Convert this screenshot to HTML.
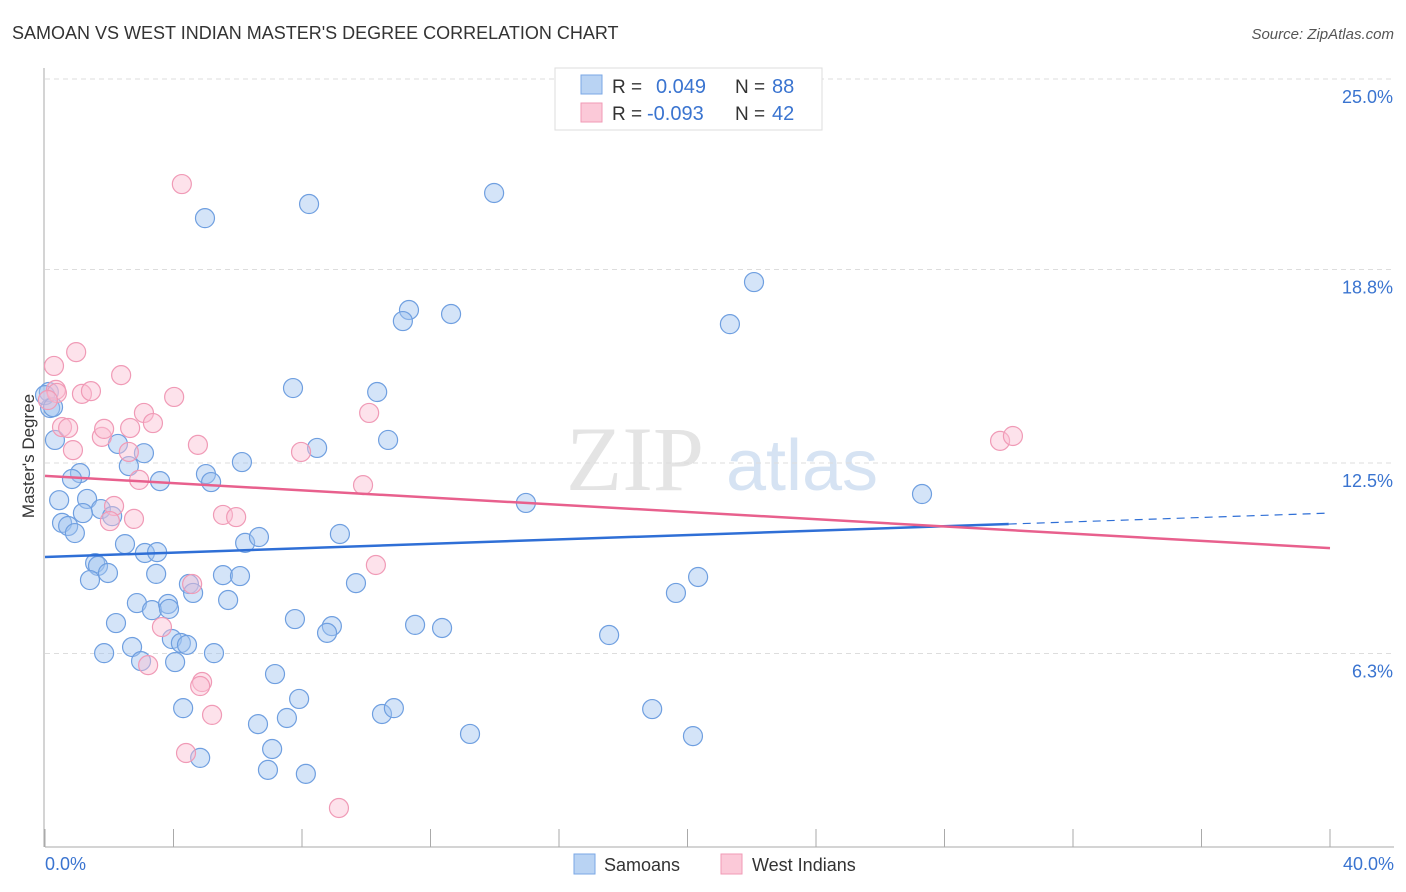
<!DOCTYPE html>
<html><head><meta charset="utf-8">
<style>
body{margin:0;background:#fff;font-family:"Liberation Sans",sans-serif;}
svg{display:block}
</style></head>
<body>
<svg id="chart" width="1406" height="892" viewBox="0 0 1406 892">
<text x="12" y="39" font-size="18" fill="#333">SAMOAN VS WEST INDIAN MASTER'S DEGREE CORRELATION CHART</text>
<text x="1394" y="39" font-size="15" fill="#555" font-style="italic" text-anchor="end">Source: ZipAtlas.com</text>
<text x="635" y="490" font-size="92" fill="#e4e4e4" font-family="Liberation Serif,serif" text-anchor="middle">ZIP</text>
<text x="802" y="490" font-size="72" fill="#d6e3f3" text-anchor="middle">atlas</text>
<g id="grid"></g>
<g id="axes"></g>
<g id="points"></g>
<g id="trends"></g>
<text transform="translate(34,456) rotate(-90)" font-size="17" fill="#333" text-anchor="middle">Master's Degree</text>
<text x="45" y="870" font-size="18" fill="#3a74d0">0.0%</text>
<text x="1394" y="870" font-size="18" fill="#3a74d0" text-anchor="end">40.0%</text>
<g>
<rect x="555" y="68" width="267" height="62" fill="#fff" stroke="#ddd"/>
<rect x="581" y="75" width="21" height="19" fill="#b9d3f3" stroke="#7aa7e6"/>
<rect x="581" y="103" width="21" height="19" fill="#fbc9d8" stroke="#f09ab6"/>
<text x="612" y="93" font-size="19" fill="#333">R =</text>
<text x="656" y="93" font-size="20" fill="#3a74d0">0.049</text>
<text x="735" y="93" font-size="19" fill="#333">N =</text>
<text x="772" y="93" font-size="20" fill="#3a74d0">88</text>
<text x="612" y="120" font-size="19" fill="#333">R =</text>
<text x="647" y="120" font-size="20" fill="#3a74d0">-0.093</text>
<text x="735" y="120" font-size="19" fill="#333">N =</text>
<text x="772" y="120" font-size="20" fill="#3a74d0">42</text>
</g>
<g>
<rect x="574" y="854" width="21" height="20" fill="#b9d3f3" stroke="#7aa7e6"/>
<text x="604" y="871" font-size="18" fill="#333">Samoans</text>
<rect x="721" y="854" width="21" height="20" fill="#fbc9d8" stroke="#f09ab6"/>
<text x="752" y="871" font-size="18" fill="#333">West Indians</text>
</g>
</svg>
<script>
const yTicks=[25.0,18.8,12.5,6.3];
const yTickLabels=["25.0%","18.8%","12.5%","6.3%"];
const xTicks=[0,4,8,12,16,20,24,28,32,36,40];
const samoanX=[4.98,8.22,13.98,22.07,21.32,11.33,11.14,12.64,7.72,10.34,10.68,8.47,0.31,0.16,0.12,2.27,3.08,2.61,1.09,0.84,3.58,5.01,5.17,6.13,0.44,1.31,1.74,1.18,0.53,0.72,0.93,2.09,14.97,27.30,2.49,3.11,3.49,6.23,6.66,9.18,1.56,1.65,1.96,1.40,3.46,5.54,6.07,4.48,4.61,9.68,20.33,19.64,2.86,3.33,3.83,3.86,5.70,2.21,7.78,8.93,8.78,11.52,12.36,17.56,3.95,4.23,4.42,2.71,1.84,2.99,4.05,5.26,7.16,7.91,4.30,7.53,6.63,10.49,10.86,18.90,13.23,20.17,7.07,4.83,6.94,8.12,0.0,0.25];
const samoanY=[20.47,20.93,21.29,18.39,17.02,17.48,17.12,17.35,14.94,14.81,13.25,12.99,13.25,14.29,14.81,13.12,12.82,12.40,12.17,11.98,11.91,12.14,11.88,12.53,11.29,11.33,11.00,10.87,10.55,10.45,10.22,10.77,11.20,11.49,9.86,9.57,9.60,9.90,10.09,10.19,9.24,9.15,8.92,8.69,8.89,8.85,8.82,8.56,8.27,8.59,8.79,8.27,7.94,7.71,7.91,7.75,8.04,7.29,7.42,7.19,6.97,7.23,7.13,6.90,6.77,6.64,6.58,6.51,6.31,6.05,6.02,6.31,5.63,4.82,4.52,4.20,4.00,4.33,4.52,4.49,3.68,3.61,3.19,2.90,2.51,2.38,14.71,14.32];
const westX=[4.26,0.97,0.28,2.37,0.34,1.15,1.43,4.02,3.08,0.53,0.72,1.77,3.36,1.84,2.65,4.76,7.97,10.09,0.87,2.61,2.93,9.90,2.15,2.02,2.77,5.54,5.95,10.30,4.58,3.64,3.21,4.89,4.83,5.20,4.39,9.15,29.73,30.13,0.37,0.09];
const westY=[21.58,16.11,15.66,15.36,14.88,14.75,14.84,14.65,14.13,13.67,13.64,13.35,13.80,13.61,13.64,13.09,12.86,14.13,12.92,12.86,11.95,11.78,11.10,10.61,10.68,10.81,10.74,9.18,8.56,7.16,5.92,5.37,5.24,4.30,3.06,1.27,13.22,13.38,14.78,14.55];
const samoanTrend=[9.44,10.87]; // y at x=0 and x=40
const samoanSolidEnd=30.0;
const westTrend=[12.08,9.73];

const NS="http://www.w3.org/2000/svg";
const X0=45,X1=1330,Y0=847,YTOP=79;
const sx=v=>X0+(v/40)*(X1-X0);
const sy=v=>Y0-(v/25)*(Y0-YTOP);
function mk(tag,attrs,parent){const e=document.createElementNS(NS,tag);for(const k in attrs)e.setAttribute(k,attrs[k]);parent.appendChild(e);return e;}
const grid=document.getElementById('grid'),axes=document.getElementById('axes'),pts=document.getElementById('points'),tr=document.getElementById('trends');
yTicks.forEach((t,i)=>{
 const l=mk('line',{x1:X0,x2:1394,y1:sy(t),y2:sy(t),stroke:'#ddd','stroke-dasharray':'5,4'},grid);
 
 
 const tx=mk('text',{x:1393,y:sy(t)+24,'font-size':18,fill:'#3a74d0','text-anchor':'end'},grid);
 tx.textContent=yTickLabels[i];
 
 
});
const ya=mk('line',{x1:44,x2:44,y1:68,y2:Y0,stroke:'#aaa'},axes);


const xa=mk('line',{x1:X0,x2:1394,y1:Y0,y2:Y0,stroke:'#aaa'},axes);


xTicks.forEach(t=>{
 const l=mk('line',{x1:sx(t),x2:sx(t),y1:829,y2:Y0,stroke:'#aaa'},axes);
 
 
});
samoanX.forEach((x,i)=>{
 const c=mk('circle',{cx:sx(x),cy:sy(samoanY[i]),r:9.5,fill:'rgba(160,195,240,0.45)',stroke:'#6f9fe0','stroke-width':1.2},pts);
 
 
});
westX.forEach((x,i)=>{
 const c=mk('circle',{cx:sx(x),cy:sy(westY[i]),r:9.5,fill:'rgba(250,190,210,0.45)',stroke:'#f09ab6','stroke-width':1.2},pts);
 
 
});
const by=x=>samoanTrend[0]+(samoanTrend[1]-samoanTrend[0])*x/40;
const l1=mk('line',{x1:sx(0),y1:sy(by(0)),x2:sx(samoanSolidEnd),y2:sy(by(samoanSolidEnd)),stroke:'#2f6fd6','stroke-width':2.5},tr);


const l2=mk('line',{x1:sx(samoanSolidEnd),y1:sy(by(samoanSolidEnd)),x2:sx(40),y2:sy(by(40)),stroke:'#2f6fd6','stroke-width':1.2,'stroke-dasharray':'8,6'},tr);


const l3=mk('line',{x1:sx(0),y1:sy(westTrend[0]),x2:sx(40),y2:sy(westTrend[1]),stroke:'#e8608d','stroke-width':2.5},tr);


</script>
</body></html>
